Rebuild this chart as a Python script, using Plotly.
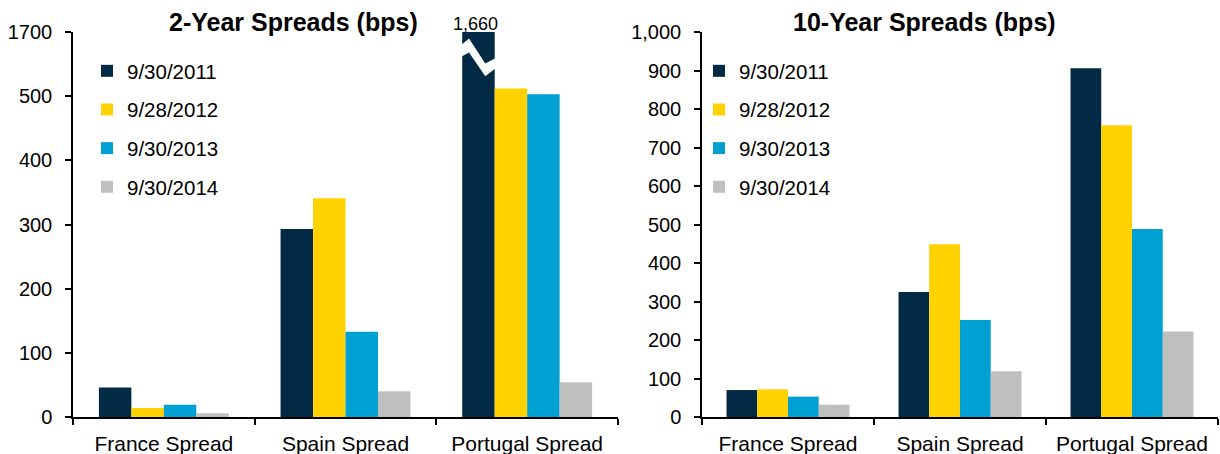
import plotly.graph_objects as go

# ---- data -------------------------------------------------------------
categories = ["France Spread", "Spain Spread", "Portugal Spread"]
dates = ["9/30/2011", "9/28/2012", "9/30/2013", "9/30/2014"]

spread_2y_2011 = [46, 293, 1660]
spread_2y_2012 = [14, 341, 512]
spread_2y_2013 = [19, 133, 503]
spread_2y_2014 = [6, 40, 54]

spread_10y_2011 = [70, 325, 906]
spread_10y_2012 = [72, 449, 758]
spread_10y_2013 = [53, 252, 488]
spread_10y_2014 = [32, 119, 222]

# 2-year axis is broken: the top tick stands for 1700
y2_tickvals = [0, 100, 200, 300, 400, 500, 600]
y2_ticktext = ["0", "100", "200", "300", "400", "500", "1700"]
y10_tickvals = [0, 100, 200, 300, 400, 500, 600, 700, 800, 900, 1000]

colors = ["#022a44", "#ffd200", "#00a0d2", "#bfbfbf"]

# ---- layout constants -------------------------------------------------
W, H = 1220, 454
FONT = "Liberation Sans, Arial, sans-serif"
BARGAP = 0.285
TICK_FONT = 20
CAT_FONT = 21
LEG_FONT = 20.5
TITLE_FONT = 25

def px_x(p):
    return p / W

def px_y(p):
    return (H - p) / H

left_dom = [px_x(73), px_x(618)]
right_dom = [px_x(702), px_x(1218)]
y_dom = [px_y(417), px_y(32)]

two_year = [spread_2y_2011, spread_2y_2012, spread_2y_2013, spread_2y_2014]
ten_year = [spread_10y_2011, spread_10y_2012, spread_10y_2013, spread_10y_2014]

fig = go.Figure()

for i, (d, vals) in enumerate(zip(dates, two_year)):
    fig.add_trace(go.Bar(
        x=categories, y=vals, name=d, marker=dict(color=colors[i], line=dict(width=0)),
        xaxis="x", yaxis="y", legend="legend", legendgroup=f"l{i}",
        hovertemplate="%{x}<br>" + d + ": %{y:,}<extra></extra>",
    ))

for i, (d, vals) in enumerate(zip(dates, ten_year)):
    fig.add_trace(go.Bar(
        x=categories, y=vals, name=d, marker=dict(color=colors[i], line=dict(width=0)),
        xaxis="x2", yaxis="y2", legend="legend2", legendgroup=f"r{i}",
        hovertemplate="%{x}<br>" + d + ": %{y:,}<extra></extra>",
    ))

axis_common = dict(
    showline=True, linecolor="black", linewidth=1.5, showgrid=False, zeroline=False,
    ticks="outside", tickcolor="black", ticklen=6, tickwidth=1.5,
    automargin=False, fixedrange=True,
)

legend_common = dict(
    xanchor="left", yanchor="top", traceorder="grouped", tracegroupgap=9,
    bgcolor="rgba(0,0,0,0)", font=dict(size=LEG_FONT),
    itemclick=False, itemdoubleclick=False,
)

fig.update_layout(
    width=W, height=H,
    margin=dict(l=0, r=0, t=0, b=0),
    paper_bgcolor="white", plot_bgcolor="white",
    barmode="group", bargap=BARGAP, bargroupgap=0,
    font=dict(family=FONT, color="black"),
    xaxis=dict(domain=left_dom, anchor="y", tickson="boundaries",
               tickfont=dict(size=CAT_FONT), ticklabelstandoff=7, **axis_common),
    yaxis=dict(domain=y_dom, anchor="x", range=[0, 600],
               tickvals=y2_tickvals, ticktext=y2_ticktext,
               tickfont=dict(size=TICK_FONT), ticklabelstandoff=9, **axis_common),
    xaxis2=dict(domain=right_dom, anchor="y2", tickson="boundaries",
                tickfont=dict(size=CAT_FONT), ticklabelstandoff=7, **axis_common),
    yaxis2=dict(domain=y_dom, anchor="x2", range=[0, 1000],
                tickvals=y10_tickvals, tickformat=",",
                tickfont=dict(size=TICK_FONT), ticklabelstandoff=9, **axis_common),
    legend=dict(x=px_x(87), y=px_y(51), **legend_common),
    legend2=dict(x=px_x(699), y=px_y(51), **legend_common),
    showlegend=True,
)

# chart titles
fig.add_annotation(text="<b>2-Year Spreads (bps)</b>", x=px_x(293), y=px_y(22),
                   xref="paper", yref="paper", showarrow=False,
                   font=dict(size=TITLE_FONT), xanchor="center", yanchor="middle")
fig.add_annotation(text="<b>10-Year Spreads (bps)</b>", x=px_x(924), y=px_y(22),
                   xref="paper", yref="paper", showarrow=False,
                   font=dict(size=TITLE_FONT), xanchor="center", yanchor="middle")

# position of the Portugal 2011 bar inside its category (category units)
n_series = len(dates)
bar_w = (1 - BARGAP) / n_series
cat_idx = categories.index("Portugal Spread")
bar_center = cat_idx - (n_series - 1) / 2 * bar_w
n_cats = len(categories)

def cat_to_dom(p):
    return (p + 0.5) / n_cats

# value label above the truncated bar
fig.add_annotation(text=f"{spread_2y_2011[cat_idx]:,}", x=cat_to_dom(bar_center), y=y_dom[1],
                   xref="x domain", yref="paper", showarrow=False, xshift=-3,
                   font=dict(size=18), xanchor="center", yanchor="bottom", yshift=-4)

# white zig-zag marking the axis break on the truncated bar
bl = cat_to_dom(bar_center - bar_w / 2)
br = cat_to_dom(bar_center + bar_w / 2)
bx = lambda f: bl + (br - bl) * f
upper = [(bx(-0.02), 580), (bx(0.21), 590), (bx(0.71), 551), (bx(1.02), 559)]
lower = [(bx(1.02), 543), (bx(0.71), 531), (bx(0.21), 568), (bx(-0.02), 562)]
pts = upper + lower
path = "M " + " L ".join(f"{x:.5f},{y}" for x, y in pts) + " Z"
fig.add_shape(type="path", path=path, xref="x domain", yref="y",
              fillcolor="white", line=dict(width=0), layer="above")

fig.write_html("out.html")
